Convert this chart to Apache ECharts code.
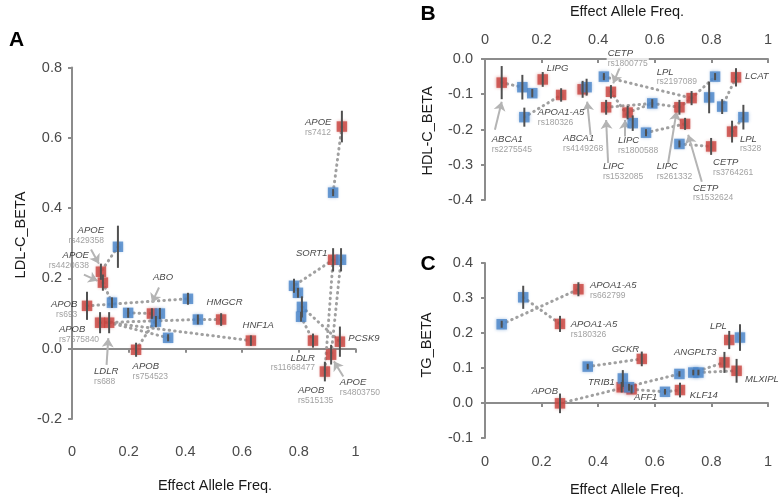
<!DOCTYPE html>
<html><head><meta charset="utf-8">
<script src="https://cdn.jsdelivr.net/npm/echarts@6/dist/echarts.min.js"></script>
<style>html,body{margin:0;padding:0;background:#fff}#c{width:782px;height:502px}</style>
</head><body><div id="c"></div>
<script>
// ---------- Panel A : LDL-C ----------
const ldlRedFreq = [0.102,0.109,0.053,0.099,0.131,0.226,0.282,0.526,0.631,0.850,0.945,0.914,0.892,0.921,0.952];
const ldlRedBeta = [0.219,0.188,0.122,0.074,0.074,-0.003,0.100,0.083,0.023,0.023,0.020,-0.017,-0.065,0.253,0.632];
const ldlRedErr  = [0.023,0.023,0.040,0.030,0.030,0.020,0.015,0.018,0.015,0.020,0.043,0.028,0.028,0.033,0.045];
const ldlBlueFreq = [0.162,0.141,0.409,0.198,0.310,0.296,0.339,0.444,0.783,0.797,0.811,0.808,0.949,0.921];
const ldlBlueBeta = [0.290,0.131,0.142,0.102,0.100,0.077,0.031,0.083,0.179,0.159,0.119,0.091,0.253,0.444];
const ldlBlueErr  = [0.060,0.015,0.017,0.014,0.016,0.016,0.010,0.014,0.020,0.014,0.030,0.014,0.033,0.010];
const ldlLinks = [['b0','r0'],['r1','b1'],['r2','b2'],['b3','r6'],['r3','b7'],['r7','b7'],['r4','b6'],['r4','r8'],['r5','b4'],['r13','b8'],['b12','r11'],['r13','r12'],['b11','r9'],['b10','r10'],['b13','r14']];
const ldlLabelGene = ['APOE','APOE','APOB','APOB','LDLR','APOB','ABO','HMGCR','HNF1A','SORT1','APOE','PCSK9','LDLR','APOB','APOE'];
const ldlLabelRs   = ['rs429358','rs4420638','rs693','rs7575840','rs688','rs754523','','','','','rs7412','','rs11668477','rs515135','rs4803750'];
const ldlLabelX    = [0.113,0.060,0.019,-0.046,0.078,0.214,0.286,0.475,0.602,0.790,0.822,0.975,0.857,0.797,0.945];
const ldlLabelY    = [0.350,0.279,0.139,0.068,-0.050,-0.036,0.218,0.146,0.080,0.286,0.658,0.043,-0.012,-0.104,-0.082];
const ldlLabelAlign= ['right','right','right','left','left','left','left','left','left','left','left','left','right','left','left'];
const ldlArrowFrom = [[0.067,0.282],[0.042,0.211],[0.122,-0.046],[0.307,0.174],[0.957,-0.079]];
const ldlArrowTo   = [[0.095,0.242],[0.090,0.193],[0.128,0.030],[0.282,0.131],[0.924,-0.036]];

// ---------- Panel B : HDL-C ----------
const hdlRedFreq = [0.059,0.204,0.269,0.345,0.445,0.428,0.504,0.730,0.687,0.707,0.799,0.887,0.873];
const hdlRedBeta = [-0.067,-0.058,-0.102,-0.086,-0.093,-0.137,-0.152,-0.111,-0.137,-0.184,-0.248,-0.052,-0.206];
const hdlRedErr  = [0.047,0.021,0.019,0.024,0.019,0.021,0.019,0.020,0.021,0.017,0.024,0.026,0.031];
const hdlBlueFreq = [0.132,0.167,0.139,0.359,0.420,0.522,0.591,0.569,0.687,0.813,0.792,0.838,0.913];
const hdlBlueBeta = [-0.080,-0.097,-0.165,-0.080,-0.050,-0.182,-0.126,-0.209,-0.241,-0.050,-0.109,-0.135,-0.165];
const hdlBlueErr  = [0.035,0.012,0.027,0.024,0.010,0.022,0.012,0.010,0.010,0.010,0.045,0.021,0.035];
const hdlLinks = [['r0','b0'],['b2','r2'],['r3','b3'],['b4','r7'],['r4','b5'],['r5','b6'],['r6','b6'],['b6','r8'],['r8','r7'],['r7','b9'],['r11','b11'],['b7','r9'],['b8','r10'],['r12','b12']];
const hdlLabelGene = ['ABCA1','APOA1-A5','LIPG','ABCA1','CETP','LPL','LCAT','LIPC','LIPC','LIPC','CETP','CETP','LPL'];
const hdlLabelRs   = ['rs2275545','rs180326','','rs4149268','rs1800775','rs2197089','','rs1532085','rs1800588','rs261332','rs1532624','rs3764261','rs328'];
const hdlLabelX    = [0.024,0.187,0.218,0.276,0.430,0.607,0.919,0.417,0.470,0.607,0.735,0.806,0.901];
const hdlLabelY    = [-0.215,-0.138,-0.012,-0.212,0.030,-0.023,-0.036,-0.291,-0.218,-0.291,-0.352,-0.280,-0.213];
const hdlArrowFrom = [[0.035,-0.201],[0.373,-0.215],[0.477,-0.022],[0.435,-0.295],[0.495,-0.220],[0.647,-0.295],[0.766,-0.348]];
const hdlArrowTo   = [[0.059,-0.121],[0.361,-0.121],[0.453,-0.069],[0.428,-0.173],[0.495,-0.173],[0.677,-0.149],[0.718,-0.215]];

// ---------- Panel C : TG ----------
const tgRedFreq = [0.330,0.265,0.554,0.265,0.483,0.518,0.689,0.846,0.889,0.863];
const tgRedBeta = [0.325,0.226,0.126,-0.001,0.045,0.039,0.037,0.116,0.092,0.180];
const tgRedErr  = [0.020,0.023,0.021,0.028,0.015,0.012,0.021,0.030,0.034,0.026];
const tgBlueFreq = [0.059,0.135,0.363,0.487,0.509,0.636,0.687,0.736,0.754,0.901];
const tgBlueBeta = [0.225,0.302,0.104,0.070,0.045,0.032,0.083,0.087,0.087,0.187];
const tgBlueErr  = [0.010,0.033,0.008,0.024,0.010,0.008,0.008,0.008,0.008,0.038];
const tgLinks = [['b0','r0'],['b1','r1'],['b2','r2'],['r3','b6'],['r5','b5'],['b5','r6'],['b7','r7'],['b8','r8'],['r4','b3']];
const tgLabelGene = ['APOA1-A5','APOA1-A5','GCKR','APOB','TRIB1','AFF1','KLF14','ANGPLT3','MLXIPL','LPL'];
const tgLabelRs   = ['rs662799','rs180326','','','','','','','',''];
const tgLabelX    = [0.371,0.303,0.448,0.165,0.364,0.527,0.724,0.668,0.919,0.795];
const tgLabelY    = [0.349,0.239,0.168,0.047,0.072,0.031,0.037,0.158,0.082,0.232];

const xTicks = {min:0, max:1, interval:0.2};

// ---------- styles ----------
const RED = '#c8443f', BLUE = '#4a85c8';
const FONT = '"Liberation Sans", Arial, sans-serif';
const AXIS_C = '#8c8c8c';

const panels = [
  {xi:0, yi:0, rf:ldlRedFreq, rb:ldlRedBeta, re:ldlRedErr, bf:ldlBlueFreq, bb:ldlBlueBeta, be:ldlBlueErr, links:ldlLinks,
   lg:ldlLabelGene, lr:ldlLabelRs, lx:ldlLabelX, ly:ldlLabelY, la:ldlLabelAlign, af:ldlArrowFrom, at:ldlArrowTo},
  {xi:2, yi:1, rf:hdlRedFreq, rb:hdlRedBeta, re:hdlRedErr, bf:hdlBlueFreq, bb:hdlBlueBeta, be:hdlBlueErr, links:hdlLinks,
   lg:hdlLabelGene, lr:hdlLabelRs, lx:hdlLabelX, ly:hdlLabelY, la:null, af:hdlArrowFrom, at:hdlArrowTo, bgLabel:'rs1800775'},
  {xi:3, yi:2, rf:tgRedFreq, rb:tgRedBeta, re:tgRedErr, bf:tgBlueFreq, bb:tgBlueBeta, be:tgBlueErr, links:tgLinks,
   lg:tgLabelGene, lr:tgLabelRs, lx:tgLabelX, ly:tgLabelY, la:null, af:[], at:[]}
];

const series = [];
function errSeries(p, f, b, e) {
  return {type:'custom', xAxisIndex:p.xi, yAxisIndex:p.yi, z:5, silent:true,
    encode:{x:0, y:1},
    data: f.map((v,i)=>[v, b[i], e[i]]),
    renderItem:(params, api)=>{
      const x = api.value(0), y = api.value(1), er = api.value(2);
      const p1 = api.coord([x, y-er]), p2 = api.coord([x, y+er]);
      return {type:'line', shape:{x1:p1[0], y1:p1[1], x2:p2[0], y2:p2[1]}, style:{stroke:'#505050', lineWidth:2}};
    }};
}
panels.forEach(p=>{
  const pt = ref => { const i = +ref.slice(1); return ref[0]==='r' ? [p.rf[i], p.rb[i]] : [p.bf[i], p.bb[i]]; };
  series.push({type:'lines', coordinateSystem:'cartesian2d', xAxisIndex:p.xi, yAxisIndex:p.yi, z:1, silent:true,
    lineStyle:{color:'#a0a0a0', width:3, type:[0.5,5], cap:'round', opacity:1},
    data: p.links.map(([a,b])=>({coords:[pt(a), pt(b)]}))});
  if (p.af.length) series.push({type:'lines', coordinateSystem:'cartesian2d', xAxisIndex:p.xi, yAxisIndex:p.yi, z:3, silent:true,
    symbol:['none','arrow'], symbolSize:[1,9],
    lineStyle:{color:'#b4b4b4', width:2, opacity:1},
    data: p.af.map((a,i)=>({coords:[a, p.at[i]]}))});
  series.push({type:'scatter', xAxisIndex:p.xi, yAxisIndex:p.yi, z:4, symbol:'rect', symbolSize:10.5, silent:true,
    itemStyle:{color:RED, shadowBlur:3, shadowColor:'rgba(200,68,63,0.55)'},
    data: p.rf.map((v,i)=>[v, p.rb[i]])});
  series.push({type:'scatter', xAxisIndex:p.xi, yAxisIndex:p.yi, z:4, symbol:'rect', symbolSize:10.5, silent:true,
    itemStyle:{color:BLUE, shadowBlur:3, shadowColor:'rgba(74,133,200,0.55)'},
    data: p.bf.map((v,i)=>[v, p.bb[i]])});
  series.push(errSeries(p, p.rf, p.rb, p.re));
  series.push(errSeries(p, p.bf, p.bb, p.be));
  series.push({type:'scatter', xAxisIndex:p.xi, yAxisIndex:p.yi, z:6, symbolSize:0.1, silent:true, clip:false,
    itemStyle:{color:'transparent'},
    data: p.lg.map((g,i)=>{
      const rs = p.lr[i];
      const lab = {show:true, position:[0,0], verticalAlign:'top', align: p.la ? p.la[i] : 'left',
        formatter: rs ? `{g|${g}}\n{r|${rs}}` : `{g|${g}}`,
        rich:{ g:{fontFamily:FONT, fontStyle:'italic', fontSize:9.5, color:'#111', lineHeight:10},
               r:{fontFamily:FONT, fontSize:8.5, color:'#8a8a8a', lineHeight:10} } };
      if (p.bgLabel && rs === p.bgLabel) { lab.backgroundColor = '#fff'; lab.padding = [0,1]; }
      return {value:[p.lx[i], p.ly[i]], label:lab};
    })});
});

const tickLabel = {fontFamily:FONT, fontSize:14.5, color:'#4a4a4a'};
const lineStyle = {color:AXIS_C, width:2};
const yFmt = v => v.toFixed(1);

const option = {
  animation:false,
  backgroundColor:'#fff',
  grid:[
    {left:72, top:67.5, width:283.5, height:351.5},
    {left:485, top:59, width:283, height:141},
    {left:485, top:263, width:283, height:175}
  ],
  xAxis:[
    Object.assign({type:'value', gridIndex:0, position:'bottom', axisLine:{show:false, onZero:false}, axisTick:{show:false}, splitLine:{show:false}, axisLabel:Object.assign({margin:25}, tickLabel)}, xTicks),
    Object.assign({type:'value', gridIndex:0, position:'bottom', axisLine:{show:true, onZero:true, lineStyle}, axisTick:{show:true, length:4, lineStyle}, splitLine:{show:false}, axisLabel:{show:false}}, xTicks),
    Object.assign({type:'value', gridIndex:1, position:'top', axisLine:{show:true, onZero:false, lineStyle}, axisTick:{show:true, inside:true, length:4, lineStyle}, splitLine:{show:false}, axisLabel:Object.assign({margin:12}, tickLabel)}, xTicks),
    Object.assign({type:'value', gridIndex:2, position:'bottom', axisLine:{show:false, onZero:false}, axisTick:{show:false}, splitLine:{show:false}, axisLabel:Object.assign({margin:16}, tickLabel)}, xTicks),
    Object.assign({type:'value', gridIndex:2, position:'bottom', axisLine:{show:true, onZero:true, lineStyle}, axisTick:{show:true, length:4, lineStyle}, splitLine:{show:false}, axisLabel:{show:false}}, xTicks)
  ],
  yAxis:[
    {type:'value', gridIndex:0, min:-0.2, max:0.8, interval:0.2, axisLine:{show:true, onZero:false, lineStyle}, axisTick:{show:true, length:4, lineStyle}, splitLine:{show:false}, axisLabel:Object.assign({margin:10, formatter:yFmt}, tickLabel)},
    {type:'value', gridIndex:1, min:-0.4, max:0, interval:0.1, axisLine:{show:true, onZero:false, lineStyle}, axisTick:{show:true, length:4, lineStyle}, splitLine:{show:false}, axisLabel:Object.assign({margin:12, formatter:yFmt}, tickLabel)},
    {type:'value', gridIndex:2, min:-0.1, max:0.4, interval:0.1, axisLine:{show:true, onZero:false, lineStyle}, axisTick:{show:true, length:4, lineStyle}, splitLine:{show:false}, axisLabel:Object.assign({margin:12, formatter:yFmt}, tickLabel)}
  ],
  graphic:[
    {type:'text', x:16.5, y:40.5, style:{text:'A', fontFamily:FONT, fontWeight:'bold', fontSize:21, fill:'#000', align:'center', verticalAlign:'middle'}},
    {type:'text', x:428, y:14, style:{text:'B', fontFamily:FONT, fontWeight:'bold', fontSize:21, fill:'#000', align:'center', verticalAlign:'middle'}},
    {type:'text', x:428, y:264, style:{text:'C', fontFamily:FONT, fontWeight:'bold', fontSize:21, fill:'#000', align:'center', verticalAlign:'middle'}},
    {type:'text', x:215, y:486, style:{text:'Effect Allele Freq.', fontFamily:FONT, fontSize:14.5, fill:'#1a1a1a', align:'center', verticalAlign:'middle'}},
    {type:'text', x:627, y:12, style:{text:'Effect Allele Freq.', fontFamily:FONT, fontSize:14.5, fill:'#1a1a1a', align:'center', verticalAlign:'middle'}},
    {type:'text', x:627, y:490, style:{text:'Effect Allele Freq.', fontFamily:FONT, fontSize:14.5, fill:'#1a1a1a', align:'center', verticalAlign:'middle'}},
    {type:'text', x:21, y:235, rotation:Math.PI/2, style:{text:'LDL-C_BETA', fontFamily:FONT, fontSize:14.5, fill:'#1a1a1a', align:'center', verticalAlign:'middle'}},
    {type:'text', x:428, y:131, rotation:Math.PI/2, style:{text:'HDL-C_BETA', fontFamily:FONT, fontSize:14.5, fill:'#1a1a1a', align:'center', verticalAlign:'middle'}},
    {type:'text', x:427, y:345, rotation:Math.PI/2, style:{text:'TG_BETA', fontFamily:FONT, fontSize:14.5, fill:'#1a1a1a', align:'center', verticalAlign:'middle'}}
  ],
  series
};
echarts.init(document.getElementById('c'), null, {renderer:'canvas'}).setOption(option);
</script></body></html>
